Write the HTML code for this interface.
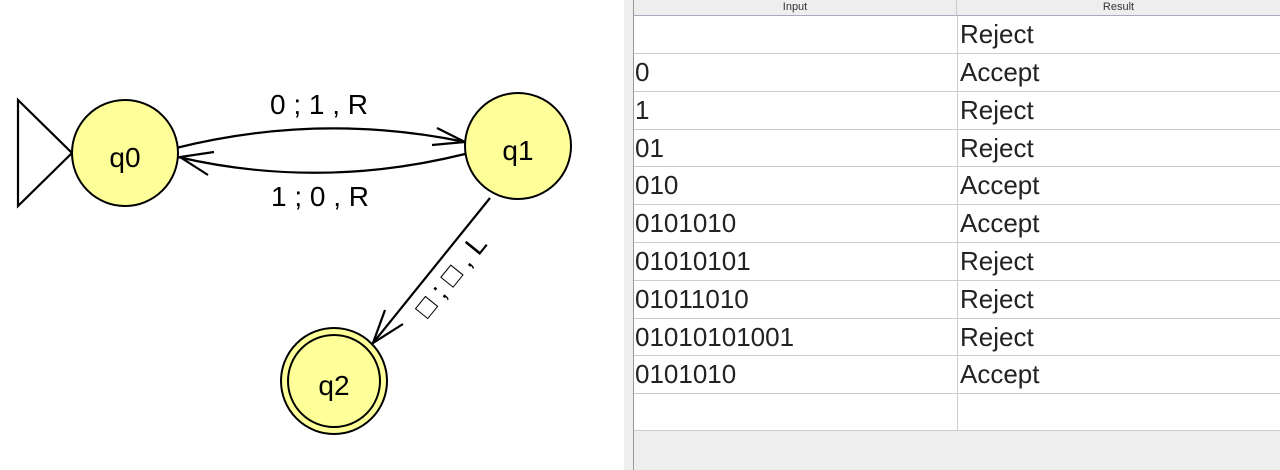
<!DOCTYPE html>
<html><head><style>
body{margin:0;width:1280px;height:470px;background:#fff;position:relative;overflow:hidden;font-family:"Liberation Sans",sans-serif}
#split{position:absolute;left:624px;top:0;width:9px;height:470px;background:#eee;border-right:1px solid #999}
#tbl{position:absolute;left:634px;top:0;width:646px;height:470px;background:#eeeeee}
.hdr{position:absolute;top:0;height:15px;background:#eee;border-bottom:1px solid #aab;font-size:11px;color:#333;text-align:center;line-height:15px}
.row{position:absolute;left:0;width:646px;height:38px;background:#fff;border-top:1px solid #ccc;box-sizing:border-box}
.c1,.c2{position:absolute;top:0;height:37px;line-height:37px;font-size:26px;color:#222}
.c1{left:1px}.c2{left:323px;padding-left:2px;border-left:1px solid #ccc;width:320px}
</style></head><body>
<svg width="624" height="470" style="position:absolute;left:0;top:0">
<g stroke="#000" stroke-width="2.2" fill="none">
<polygon points="18,100 72,153 18,206"/>
<path d="M176,148 Q320,112 465,142"/>
<polyline points="437,128 465,142 432,145"/>
<path d="M465,154 Q320,190 178,157"/>
<polyline points="214,152 180,157 208,175"/>
<line x1="490" y1="198" x2="373" y2="343"/>
<polyline points="385,310 373,343 403,324"/>
</g>
<g stroke="#000" stroke-width="2" fill="#ffff99">
<ellipse cx="125" cy="153" rx="53" ry="53"/>
<ellipse cx="518" cy="146" rx="53" ry="53"/>
<circle cx="334" cy="381" r="53"/>
<circle cx="334" cy="381" r="46"/>
</g>
<g font-family="Liberation Sans,sans-serif" font-size="28" fill="#000" text-anchor="middle">
<text x="125" y="167">q0</text>
<text x="518" y="160">q1</text>
<text x="334" y="395">q2</text>
<text x="319" y="114">0 ; 1 , R</text>
<text x="320" y="206">1 ; 0 , R</text>
<text transform="translate(458,282) rotate(-51)" x="0" y="0">□ ; □ , L</text>
</g>
</svg>
<div id="split"></div>
<div id="tbl">
<div class="hdr" style="left:0;width:322px;border-right:1px solid #ccc">Input</div>
<div class="hdr" style="left:323px;width:323px">Result</div>
<div class="row" style="top:16px;border-top:none"><div class="c1"></div><div class="c2">Reject</div></div>
<div class="row" style="top:53px"><div class="c1">0</div><div class="c2">Accept</div></div>
<div class="row" style="top:91px"><div class="c1">1</div><div class="c2">Reject</div></div>
<div class="row" style="top:129px"><div class="c1">01</div><div class="c2">Reject</div></div>
<div class="row" style="top:166px"><div class="c1">010</div><div class="c2">Accept</div></div>
<div class="row" style="top:204px"><div class="c1">0101010</div><div class="c2">Accept</div></div>
<div class="row" style="top:242px"><div class="c1">01010101</div><div class="c2">Reject</div></div>
<div class="row" style="top:280px"><div class="c1">01011010</div><div class="c2">Reject</div></div>
<div class="row" style="top:318px"><div class="c1">01010101001</div><div class="c2">Reject</div></div>
<div class="row" style="top:355px"><div class="c1">0101010</div><div class="c2">Accept</div></div>
<div class="row" style="top:393px;border-bottom:1px solid #ccc"><div class="c1"></div><div class="c2"></div></div>
</div>
</body></html>
